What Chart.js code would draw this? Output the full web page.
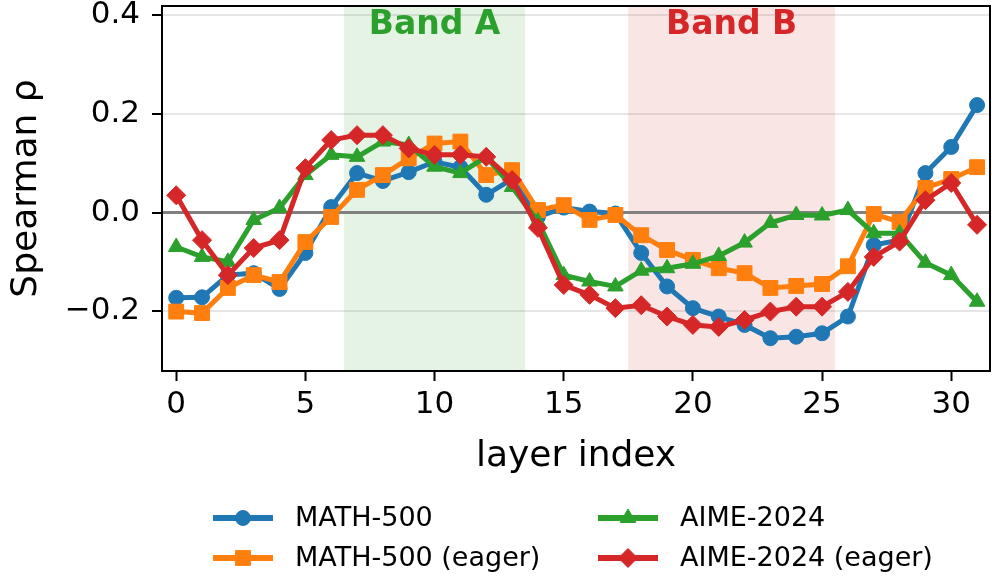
<!DOCTYPE html>
<html>
<head>
<meta charset="utf-8">
<script src="https://cdn.jsdelivr.net/npm/chart.js@4"></script>
<style>
  body { margin: 0; background: #fff; }
  #wrap { width: 992px; height: 576px; }
</style>
</head>
<body>
<div id="wrap"><canvas id="rhoChart" width="992" height="576"></canvas></div>
<script>
// layer index on the x axis
const layers = [0, 1, 2, 3, 4, 5, 6, 7, 8, 9, 10, 11, 12, 13, 14, 15,
                16, 17, 18, 19, 20, 21, 22, 23, 24, 25, 26, 27, 28, 29, 30, 31];

// Spearman rho per layer
const math500 = [-0.173, -0.172, -0.127, -0.123, -0.155, -0.082, 0.011, 0.080,
                 0.064, 0.082, 0.103, 0.092, 0.036, 0.068, -0.009, 0.010,
                 0.002, -0.002, -0.082, -0.150, -0.194, -0.211, -0.228, -0.255,
                 -0.252, -0.245, -0.211, -0.066, -0.056, 0.080, 0.133, 0.218];
const math500Eager = [-0.201, -0.204, -0.153, -0.127, -0.141, -0.060, -0.009, 0.046,
                      0.076, 0.110, 0.140, 0.144, 0.076, 0.086, 0.005, 0.015,
                      -0.015, -0.005, -0.046, -0.076, -0.096, -0.113, -0.123, -0.153,
                      -0.149, -0.145, -0.109, -0.003, -0.019, 0.050, 0.068, 0.092];
const aime2024 = [-0.070, -0.090, -0.100, -0.015, 0.009, 0.076, 0.117, 0.113,
                  0.144, 0.137, 0.093, 0.080, 0.113, 0.052, -0.018, -0.127,
                  -0.140, -0.150, -0.118, -0.113, -0.104, -0.088, -0.061, -0.021,
                  -0.005, -0.006, 0.005, -0.042, -0.042, -0.102, -0.127, -0.181];
const aime2024Eager = [0.035, -0.056, -0.127, -0.072, -0.056, 0.090, 0.147, 0.157,
                       0.157, 0.130, 0.117, 0.117, 0.113, 0.066, -0.031, -0.147,
                       -0.167, -0.194, -0.188, -0.211, -0.228, -0.232, -0.218, -0.201,
                       -0.191, -0.191, -0.161, -0.090, -0.059, 0.025, 0.060, -0.025];

// shaded layer bands
const bandNames = ['Band A', 'Band B'];
const bandStart = [6.5, 17.5];
const bandEnd = [13.5, 25.5];

// ticks
const xTicks = [0, 5, 10, 15, 20, 25, 30];
const yTicks = [-0.2, 0.0, 0.2, 0.4];
const yTickLabels = ['\u22120.2', '0.0', '0.2', '0.4'];

const FONT = "'DejaVu Sans', sans-serif";

function pts(values) {
    return values.map((v, i) => ({ x: layers[i], y: v }));
}

function series(label, values, color, style, radius, order) {
    return {
        label: label,
        data: pts(values),
        borderColor: color,
        backgroundColor: color,
        borderWidth: 5,
        pointStyle: style,
        pointRadius: radius,
        pointHoverRadius: radius,
        pointBorderWidth: 1,
        pointBackgroundColor: color,
        pointBorderColor: color,
        tension: 0,
        order: order
    };
}

// bands, zero line, band labels
const bandPlugin = {
    id: 'bands',
    beforeDatasetsDraw(chart) {
        const { ctx, chartArea, scales } = chart;
        const fills = ['rgba(44,160,44,0.12)', 'rgba(214,39,40,0.12)'];
        ctx.save();
        for (let i = 0; i < bandNames.length; i++) {
            const x0 = scales.x.getPixelForValue(bandStart[i]);
            const x1 = scales.x.getPixelForValue(bandEnd[i]);
            ctx.fillStyle = fills[i];
            ctx.fillRect(x0, chartArea.top, x1 - x0, chartArea.bottom - chartArea.top);
        }
        // zero line
        const y0 = scales.y.getPixelForValue(0);
        ctx.strokeStyle = '#808080';
        ctx.lineWidth = 3;
        ctx.beginPath();
        ctx.moveTo(chartArea.left, y0);
        ctx.lineTo(chartArea.right, y0);
        ctx.stroke();
        ctx.restore();
    },
    afterDraw(chart) {
        const { ctx, chartArea, scales } = chart;
        const colors = ['#2ca02c', '#d62728'];
        ctx.save();
        ctx.font = 'bold 33px ' + FONT;
        ctx.textAlign = 'center';
        ctx.textBaseline = 'middle';
        for (let i = 0; i < bandNames.length; i++) {
            const xc = scales.x.getPixelForValue((bandStart[i] + bandEnd[i]) / 2);
            ctx.fillStyle = colors[i];
            ctx.fillText(bandNames[i], xc, chartArea.top + 19);
        }
        // frame
        ctx.strokeStyle = '#000';
        ctx.lineWidth = 2;
        ctx.strokeRect(chartArea.left, chartArea.top,
                       chartArea.right - chartArea.left, chartArea.bottom - chartArea.top);
        ctx.restore();
    }
};

// two column legend under the axis
const legendPlugin = {
    id: 'twoColLegend',
    afterDraw(chart) {
        const ctx = chart.ctx;
        const colX = [213, 598];
        const rowY = [518, 558];
        ctx.save();
        chart.data.datasets.forEach((ds, i) => {
            const x = colX[Math.floor(i / 2)];
            const y = rowY[i % 2];
            ctx.strokeStyle = ds.borderColor;
            ctx.lineWidth = 6;
            ctx.beginPath();
            ctx.moveTo(x, y);
            ctx.lineTo(x + 60, y);
            ctx.stroke();
            ctx.fillStyle = ds.borderColor;
            ctx.strokeStyle = ds.borderColor;
            ctx.lineWidth = 1;
            Chart.helpers.drawPoint(ctx, {
                pointStyle: ds.pointStyle,
                radius: ds.pointRadius,
                rotation: 0,
                borderWidth: 1
            }, x + 30, y);
            ctx.fillStyle = '#000';
            ctx.font = '27px ' + FONT;
            ctx.textAlign = 'left';
            ctx.textBaseline = 'middle';
            ctx.fillText(ds.label, x + 82, y + 1);
        });
        ctx.restore();
    }
};

const ctx = document.getElementById('rhoChart').getContext('2d');
new Chart(ctx, {
    type: 'line',
    data: {
        datasets: [
            series('MATH-500', math500, '#1f77b4', 'circle', 7.5, 3),
            series('MATH-500 (eager)', math500Eager, '#ff7f0e', 'rect', 10.5, 2),
            series('AIME-2024', aime2024, '#2ca02c', 'triangle', 9, 1),
            series('AIME-2024 (eager)', aime2024Eager, '#d62728', 'rectRot', 9.5, 0)
        ]
    },
    options: {
        responsive: false,
        animation: false,
        devicePixelRatio: 1,
        layout: { autoPadding: false, padding: { left: 0, right: 2, top: 6, bottom: 95 } },
        plugins: {
            legend: { display: false },
            tooltip: { enabled: false }
        },
        scales: {
            x: {
                type: 'linear',
                min: -0.55,
                max: 31.5,
                afterBuildTicks: scale => { scale.ticks = xTicks.map(v => ({ value: v })); },
                afterFit: scale => {
                    scale.height = 110;
                    scale.paddingLeft = 0;
                    scale.paddingRight = 0;
                },
                grid: {
                    drawOnChartArea: false,
                    tickLength: 10,
                    tickColor: '#000',
                    tickWidth: 2
                },
                border: { color: '#000', width: 2 },
                ticks: {
                    color: '#000',
                    font: { family: FONT, size: 31 },
                    padding: 5,
                    maxRotation: 0
                },
                title: {
                    display: true,
                    text: 'layer index',
                    color: '#000',
                    font: { family: FONT, size: 36 },
                    padding: { top: 0, bottom: 3 }
                }
            },
            y: {
                min: -0.3215,
                max: 0.419,
                afterBuildTicks: scale => { scale.ticks = yTicks.map(v => ({ value: v })); },
                afterFit: scale => {
                    scale.width = 162;
                    scale.paddingTop = 0;
                    scale.paddingBottom = 0;
                },
                grid: {
                    color: '#e6e6e6',
                    lineWidth: 2,
                    tickLength: 10,
                    tickColor: '#000',
                    tickWidth: 2
                },
                border: { color: '#000', width: 2 },
                ticks: {
                    color: '#000',
                    font: { family: FONT, size: 31 },
                    padding: 12,
                    callback: (value) => {
                        const k = yTicks.findIndex(t => Math.abs(t - value) < 1e-9);
                        return k >= 0 ? yTickLabels[k] : '';
                    }
                },
                title: {
                    display: true,
                    text: 'Spearman \u03c1',
                    color: '#000',
                    font: { family: FONT, size: 36 },
                    padding: { top: 5, bottom: 0 }
                }
            }
        }
    },
    plugins: [bandPlugin, legendPlugin]
});
</script>
</body>
</html>
